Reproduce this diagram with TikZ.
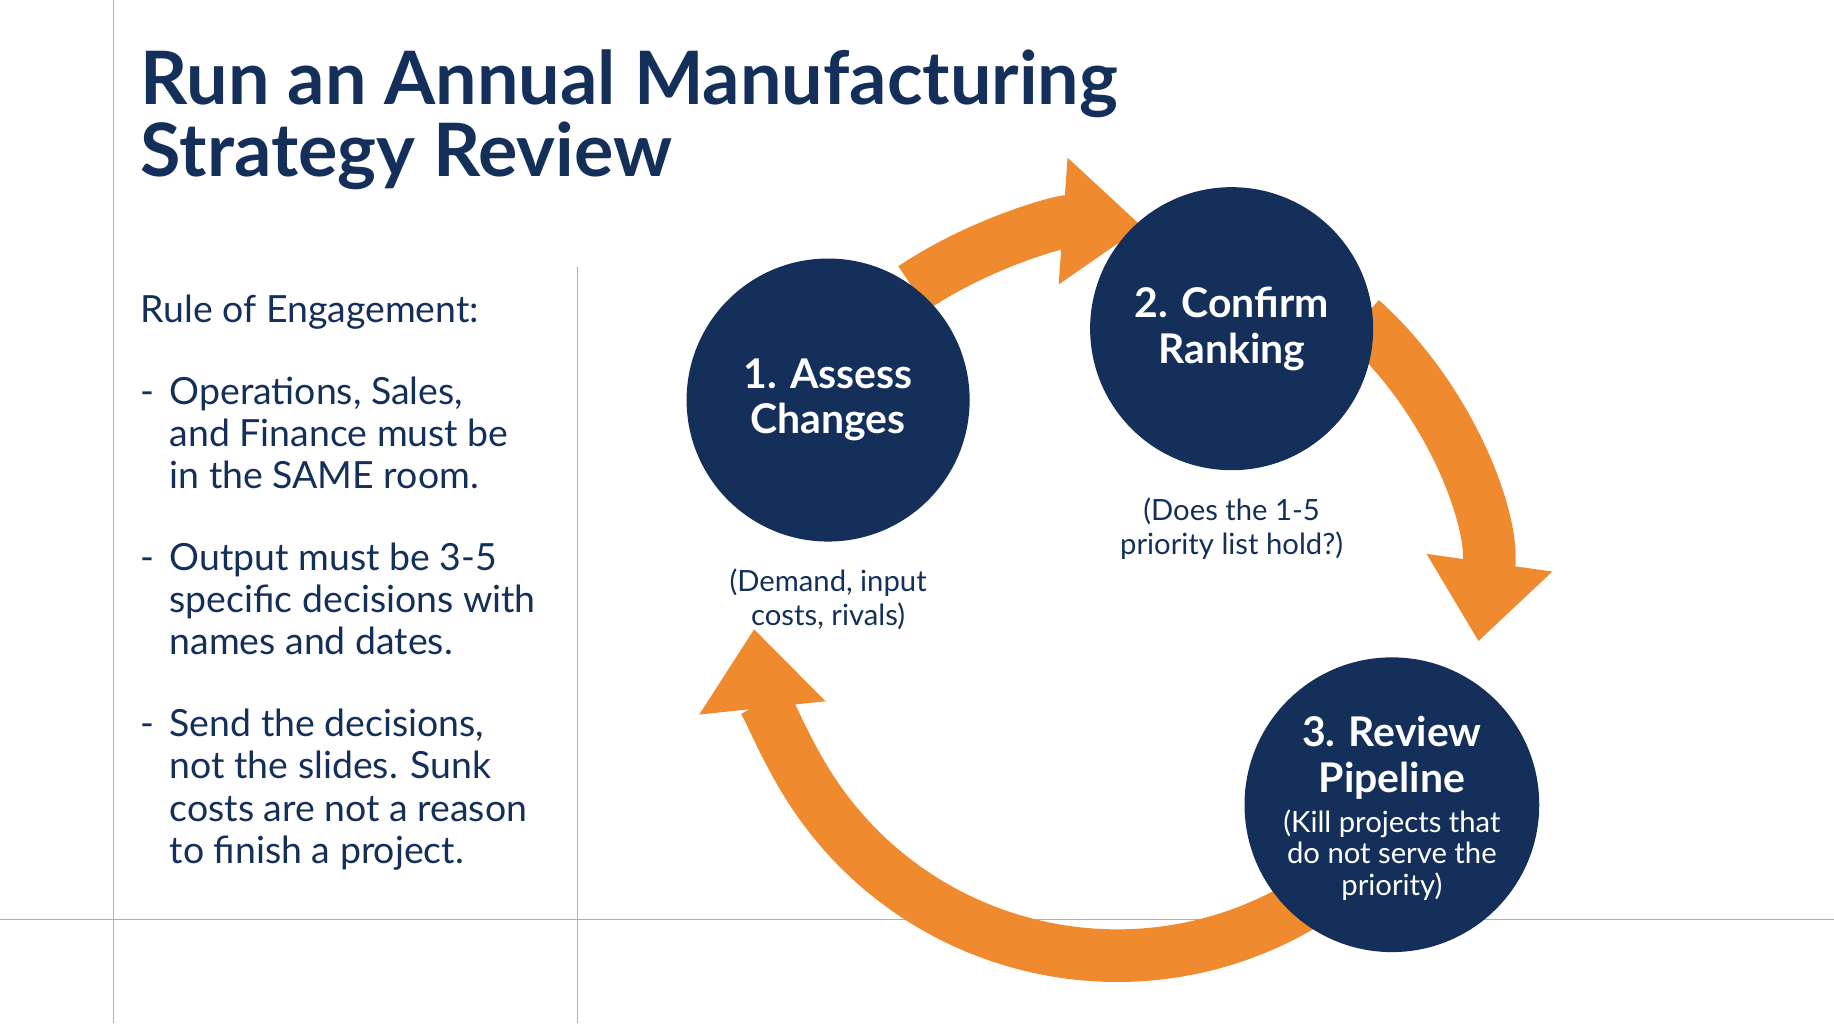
\documentclass[tikz,border=0pt]{standalone}
\usepackage{fontspec}
\setmainfont{Lato}
\usetikzlibrary{arrows.meta,positioning}
\definecolor{navy}{HTML}{14305A}
\definecolor{flow}{HTML}{EF8A2F}
\definecolor{rule}{HTML}{B0B0B0}
\begin{document}
\begin{tikzpicture}[
	x=0.5pt, y=0.5pt,
	stage/.style = {circle, fill=navy, text=white, minimum size=121pt, inner sep=0pt,
	align=center, font=\fontsize{17.5}{19.5}\selectfont\bfseries},
	note/.style = {text=navy, align=center, font=\fontsize{12.5}{14.5}\selectfont},
	cycle/.style = {flow, line width=22.5pt, -{Triangle[width=52pt,length=34pt]}},
	point/.style = {anchor=north west, align=left, text=navy, inner sep=0pt,
	font=\fontsize{16}{18}\selectfont}
]
\useasboundingbox (0,0) rectangle (1568,-875);
% frame lines
\draw[rule, thin] (97,0) -- (97,-875);
\draw[rule, thin] (494,-228) -- (494,-875);
\draw[rule, thin] (0,-786) -- (1568,-786);

% title and rules
\node[anchor=north west, align=left, text=navy, inner sep=0pt,
	font=\fontsize{31.5}{31}\selectfont\bfseries] (title) at (120,-42)
	{Run an Annual Manufacturing\\Strategy Review};
\node[point] (head) at (120,-252) {Rule of Engagement:};
\node[point] (r1) at (120,-322) {-\hspace{0.4em}\parbox[t]{180pt}{Operations, Sales,\\and Finance must be\\in the SAME room.}};
\node[point] (r2) at (120,-464) {-\hspace{0.4em}\parbox[t]{180pt}{Output must be 3-5\\specific decisions with\\names and dates.}};
\node[point] (r3) at (120,-606) {-\hspace{0.4em}\parbox[t]{180pt}{Send the decisions,\\not the slides. Sunk\\costs are not a reason\\to finish a project.}};

% cycle arrows
\coordinate (hub) at (955,-505);
\draw[cycle] (hub) ++(124:312) arc[start angle=124, end angle=86, radius=312];
\draw[cycle] (hub) ++(48:312) arc[start angle=48, end angle=-8, radius=312];
\draw[cycle] (hub) ++(-58:312) arc[start angle=-58, end angle=-174, radius=312];

% stages
\node[stage] (assess) at (708,-342) {1. Assess\\Changes};
\node[stage] (confirm) at (1053,-281) {2. Confirm\\Ranking};
\node[stage, minimum size=126pt] (pipeline) at (1190,-688) {};
\node[text=white, align=center, inner sep=0pt, anchor=north,
	font=\fontsize{17.5}{19.5}\selectfont\bfseries] (pipetxt) at (1190,-612)
	{3. Review\\Pipeline};
\node[text=white, align=center, inner sep=0pt, anchor=north,
	font=\fontsize{12.5}{13.5}\selectfont, below=4pt of pipetxt] (pipenote)
	{(Kill projects that\\do not serve the\\priority)};
\node[note, below=8pt of assess] (assessnote) {(Demand, input\\costs, rivals)};
\node[note, below=8pt of confirm] (confirmnote) {(Does the 1-5\\priority list hold?)};
\end{tikzpicture}
\end{document}
